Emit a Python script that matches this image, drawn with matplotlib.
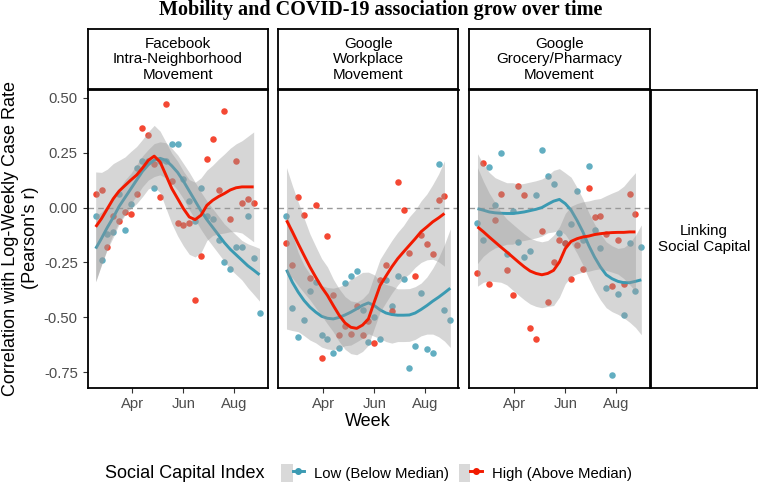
import matplotlib
matplotlib.use("Agg")
import matplotlib.pyplot as plt
import matplotlib.dates as mdates
import numpy as np
import pandas as pd
from matplotlib.lines import Line2D
from matplotlib.patches import Patch
from matplotlib.legend_handler import HandlerTuple

plt.rcParams['font.family'] = ['Liberation Sans', 'DejaVu Sans']

# weekly correlations, 2020
weeks = pd.date_range('2020-02-17', periods=29, freq='7D')

panels = ['Facebook\nIntra-Neighborhood\nMovement',
          'Google\nWorkplace\nMovement',
          'Google\nGrocery/Pharmacy\nMovement']
row_label = 'Linking\nSocial Capital'
groups = ['Low (Below Median)', 'High (Above Median)']

# raw weekly points (Low has 29 weeks, High 28)
fb_low = [-0.04, -0.24, -0.12, -0.11, 0.06, -0.10, 0.015, 0.18, 0.21, 0.21, 0.09, 0.21, 0.21, 0.29, 0.29,
          0.13, 0.03, -0.06, 0.09, -0.04, -0.05, -0.15, -0.25, -0.28, -0.18, -0.18, -0.04, -0.23, -0.48]
fb_high = [0.06, 0.08, -0.18, -0.04, -0.06, -0.02, -0.03, 0.06, 0.36, 0.33, 0.20, 0.05, 0.47, 0.12,
           -0.07, -0.08, -0.07, -0.42, -0.22, 0.22, 0.31, 0.08, 0.44, -0.05, 0.21, 0.02, 0.04, 0.02]
gw_low = [-0.04, -0.455, -0.59, -0.51, -0.38, -0.34, -0.58, -0.60, -0.66, -0.64, -0.345, -0.31, -0.29, -0.465,
          -0.61, -0.50, -0.60, -0.33, -0.45, -0.31, -0.325, -0.73, -0.63, -0.39, -0.645, -0.66, 0.20, -0.465, -0.51]
gw_high = [-0.16, -0.26, 0.047, -0.033, -0.32, 0.01, -0.685, -0.128, -0.40, -0.58, -0.54, -0.575, -0.45, -0.58,
           -0.515, -0.615, -0.33, -0.26, -0.47, 0.117, -0.012, -0.205, -0.31, -0.123, -0.166, -0.213, 0.036, 0.053]
gg_low = [-0.07, -0.146, 0.183, 0.01, 0.25, -0.21, -0.015, -0.157, -0.227, -0.2, 0.055, 0.26, 0.145, 0.107,
          -0.117, -0.16, -0.075, 0.075, -0.146, 0.19, -0.1, -0.185, -0.367, -0.76, -0.394, -0.49, -0.16, -0.38, -0.18]
gg_high = [-0.30, 0.205, -0.35, -0.056, 0.06, -0.285, -0.40, 0.099, 0.058, -0.55, -0.60, -0.105, -0.43, -0.247,
           -0.146, -0.16, -0.326, -0.169, -0.28, 0.088, -0.044, -0.037, -0.12, -0.355, -0.146, -0.35, 0.06, -0.03]

# smoothed fits and their standard-error half widths
fb_low_fit = [-0.187, -0.14, -0.09, -0.045, 0.005, 0.045, 0.085, 0.125, 0.165, 0.195, 0.216, 0.224, 0.215, 0.19,
              0.16, 0.12, 0.075, 0.03, -0.015, -0.055, -0.09, -0.125, -0.16, -0.19, -0.215, -0.24, -0.265, -0.285, -0.306]
fb_high_fit = [-0.088, -0.05, -0.005, 0.04, 0.075, 0.10, 0.125, 0.148, 0.18, 0.215, 0.234, 0.208, 0.148, 0.087,
               0.041, -0.005, -0.043, -0.055, -0.035, 0.01, 0.033, 0.05, 0.064, 0.08, 0.09, 0.094, 0.094, 0.094]
gw_low_fit = [-0.283, -0.34, -0.385, -0.423, -0.453, -0.476, -0.495, -0.504, -0.507, -0.50, -0.489, -0.476, -0.461,
              -0.445, -0.434, -0.446, -0.466, -0.48, -0.487, -0.49, -0.49, -0.489, -0.48, -0.464, -0.446, -0.426,
              -0.408, -0.388, -0.367]
gw_high_fit = [-0.058, -0.11, -0.165, -0.218, -0.27, -0.317, -0.362, -0.40, -0.446, -0.49, -0.525, -0.545, -0.55,
               -0.535, -0.507, -0.43, -0.355, -0.312, -0.27, -0.233, -0.202, -0.172, -0.142, -0.11, -0.088, -0.065,
               -0.047, -0.027]
gg_low_fit = [-0.005, -0.012, -0.02, -0.024, -0.026, -0.027, -0.027, -0.024, -0.02, -0.014, -0.008, 0.0, 0.015,
              0.029, 0.037, 0.018, -0.012, -0.058, -0.11, -0.172, -0.225, -0.27, -0.306, -0.324, -0.336, -0.342,
              -0.342, -0.336, -0.329]
gg_high_fit = [-0.088, -0.11, -0.134, -0.157, -0.18, -0.202, -0.225, -0.248, -0.27, -0.289, -0.30, -0.306, -0.30,
               -0.286, -0.248, -0.187, -0.154, -0.142, -0.134, -0.13, -0.123, -0.119, -0.116, -0.114, -0.113, -0.113,
               -0.111, -0.111]

fb_low_se = [0.15, 0.12, 0.10, 0.09, 0.08, 0.08, 0.07, 0.07, 0.07, 0.07, 0.075, 0.075, 0.08, 0.08, 0.08, 0.08,
             0.085, 0.085, 0.085, 0.085, 0.085, 0.085, 0.085, 0.09, 0.09, 0.09, 0.10, 0.11, 0.12]
fb_high_se = [0.25, 0.21, 0.18, 0.16, 0.14, 0.13, 0.13, 0.13, 0.13, 0.13, 0.14, 0.14, 0.15, 0.16, 0.17, 0.17,
              0.17, 0.17, 0.17, 0.16, 0.16, 0.17, 0.18, 0.19, 0.20, 0.21, 0.23, 0.25]
gw_low_se = [0.27, 0.22, 0.18, 0.16, 0.15, 0.14, 0.14, 0.14, 0.14, 0.14, 0.14, 0.15, 0.15, 0.15, 0.14, 0.14,
             0.13, 0.13, 0.13, 0.12, 0.12, 0.12, 0.12, 0.12, 0.13, 0.15, 0.18, 0.22, 0.27]
gw_high_se = [0.24, 0.21, 0.19, 0.17, 0.15, 0.14, 0.13, 0.13, 0.12, 0.12, 0.12, 0.12, 0.12, 0.12, 0.12, 0.12,
              0.12, 0.12, 0.12, 0.12, 0.12, 0.13, 0.13, 0.14, 0.15, 0.17, 0.20, 0.24]
gg_low_se = [0.25, 0.21, 0.18, 0.16, 0.15, 0.14, 0.14, 0.13, 0.13, 0.13, 0.13, 0.13, 0.13, 0.14, 0.14, 0.14,
             0.15, 0.15, 0.15, 0.15, 0.15, 0.15, 0.15, 0.15, 0.15, 0.16, 0.18, 0.21, 0.25]
gg_high_se = [0.27, 0.23, 0.20, 0.18, 0.16, 0.15, 0.15, 0.15, 0.15, 0.15, 0.15, 0.15, 0.15, 0.16, 0.16, 0.16,
              0.16, 0.16, 0.16, 0.16, 0.16, 0.16, 0.17, 0.18, 0.19, 0.21, 0.24, 0.27]

data = [
    [(fb_low, fb_low_fit, fb_low_se), (fb_high, fb_high_fit, fb_high_se)],
    [(gw_low, gw_low_fit, gw_low_se), (gw_high, gw_high_fit, gw_high_se)],
    [(gg_low, gg_low_fit, gg_low_se), (gg_high, gg_high_fit, gg_high_se)],
]
colors = ['#3B9AB2', '#F21A00']

W, H = 758, 486
fig = plt.figure(figsize=(W / 100, H / 100), dpi=100)


def box(x0, y0, x1, y1):
    return [x0 / W, 1 - y1 / H, (x1 - x0) / W, (y1 - y0) / H]


panel_x = [87.5, 278.3, 469.3]
pw = 180.2
top, bottom = 90, 387.7
pad = pd.Timedelta(days=9.8)

for i, (title, series) in enumerate(zip(panels, data)):
    ax = fig.add_axes(box(panel_x[i], top, panel_x[i] + pw, bottom))
    ax.axhline(0, color='#9a9a9a', lw=1.0, ls=(0, (4, 3)), zorder=1)
    for (pts, fit, se), c in zip(series, colors):
        n = len(pts)
        ax.scatter(weeks[:n], pts, s=22, color=c, alpha=0.8, lw=0, zorder=2)
    for (pts, fit, se), c in zip(series, colors):
        n = len(fit)
        f = np.array(fit)
        s = np.array(se)
        ax.fill_between(weeks[:n], f - s, f + s, color='#999999', alpha=0.4, lw=0, zorder=3)
        ax.plot(weeks[:n], f, color=c, lw=2.1, zorder=3, solid_capstyle='butt')
    ax.set_xlim(weeks[0] - pad, weeks[-1] + pad)
    ax.set_ylim(-0.82, 0.535)
    ax.xaxis.set_major_locator(mdates.MonthLocator(bymonth=[4, 6, 8]))
    ax.xaxis.set_major_formatter(mdates.DateFormatter('%b'))
    ax.set_yticks([0.5, 0.25, 0, -0.25, -0.5, -0.75])
    ax.yaxis.set_major_formatter(matplotlib.ticker.FormatStrFormatter('%.2f'))
    ax.tick_params(colors='#333333', labelcolor='#4D4D4D', labelsize=10.7, length=3.5, width=0.8)
    if i > 0:
        ax.tick_params(axis='y', left=False, labelleft=False)
    for sp in ax.spines.values():
        sp.set_linewidth(1.3)
        sp.set_color('black')

    # facet strip on top
    sx = fig.add_axes(box(panel_x[i], 29.3, panel_x[i] + pw, 89.3))
    sx.set_xticks([])
    sx.set_yticks([])
    for sp in sx.spines.values():
        sp.set_linewidth(1.3)
    sx.text(0.5, 0.5, title, ha='center', va='center', fontsize=10.9, linespacing=1.12,
            transform=sx.transAxes)

# row strip on the right
rx = fig.add_axes(box(651, top, 756.5, bottom))
rx.set_xticks([])
rx.set_yticks([])
for sp in rx.spines.values():
    sp.set_linewidth(1.3)
rx.text(0.5, 0.5, row_label, ha='center', va='center', fontsize=10.9, linespacing=1.12,
        transform=rx.transAxes)

fig.text(381 / W, 1 - 10 / H, 'Mobility and COVID-19 association grow over time',
         ha='center', va='center', fontsize=14.5, fontweight='bold', family='Liberation Serif')
fig.text(20.5 / W, 1 - 238 / H, "Correlation with Log-Weekly Case Rate\n(Pearson's r)",
         ha='center', va='center', rotation=90, fontsize=13, linespacing=1.25)
fig.text(368 / W, 1 - 421 / H, 'Week', ha='center', va='center', fontsize=13)

# legend
fig.text(105 / W, 1 - 473 / H, 'Social Capital Index', ha='left', va='center', fontsize=13)
handles = [(Patch(facecolor='#d9d9d9', edgecolor='none'),
            Line2D([], [], color=c, lw=2.1, marker='o', markersize=4)) for c in colors]
fig.legend(handles, groups, handler_map={tuple: HandlerTuple(ndivide=None, pad=0)},
           loc='center left', bbox_to_anchor=(281 / W, 1 - 473 / H), ncol=2, frameon=False,
           fontsize=10.7, handlelength=1.55, handleheight=1.5, handletextpad=0.67,
           columnspacing=0.67, borderpad=0, borderaxespad=0)

fig.savefig('out.png', dpi=100)
